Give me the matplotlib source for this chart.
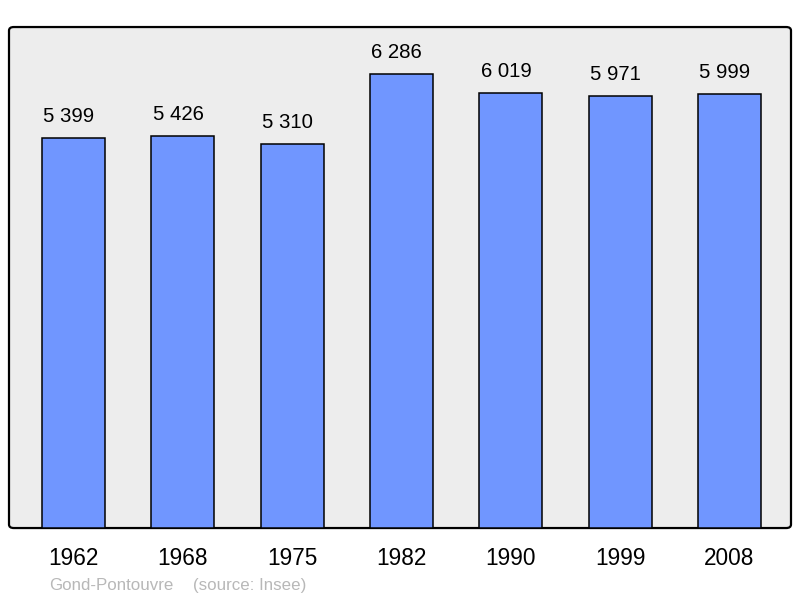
import matplotlib.pyplot as plt
from matplotlib.patches import FancyBboxPatch

plt.rcParams['font.family'] = ['Liberation Sans', 'DejaVu Sans']

years = ["1962", "1968", "1975", "1982", "1990", "1999", "2008"]
population = [5399, 5426, 5310, 6286, 6019, 5971, 5999]
value_labels = ["5 399", "5 426", "5 310", "6 286", "6 019", "5 971", "5 999"]

fig = plt.figure(figsize=(8, 5.98), dpi=100)
ax = fig.add_axes([0.01125, 0.117, 0.9775, 0.8378])
ax.patch.set_visible(False)
for s in ax.spines.values():
    s.set_visible(False)

# rounded frame behind the bars
frame = FancyBboxPatch((0.01125, 0.117), 0.9775, 0.8378,
                       boxstyle="round,pad=0,rounding_size=0.006",
                       transform=fig.transFigure, facecolor="#ededed",
                       edgecolor="black", linewidth=1.6, zorder=-5)
fig.patches.append(frame)

x = range(len(years))
ax.bar(x, population, width=0.576, color="#7096ff", edgecolor="black",
       linewidth=1.1, zorder=2)

for i, v in enumerate(population):
    ax.annotate(value_labels[i], (i, v), xytext=(-3.4, 11.5), textcoords="offset points",
                ha="center", va="baseline", fontsize=14.7, color="black")

ax.set_xlim(-0.59, 6.5625)
ax.set_ylim(0, 6930)
ax.set_xticks(list(x))
ax.set_xticklabels(years, fontsize=16.3)
ax.tick_params(axis="x", length=0, pad=14)
ax.set_yticks([])

fig.text(49 / 800, 1 - 590 / 598, "Gond-Pontouvre", color="#b8b8b8", fontsize=12.2, va="baseline")
fig.text(193 / 800, 1 - 590 / 598, "(source: Insee)", color="#b8b8b8", fontsize=12.2, va="baseline")

fig.savefig("out.png", dpi=100)
